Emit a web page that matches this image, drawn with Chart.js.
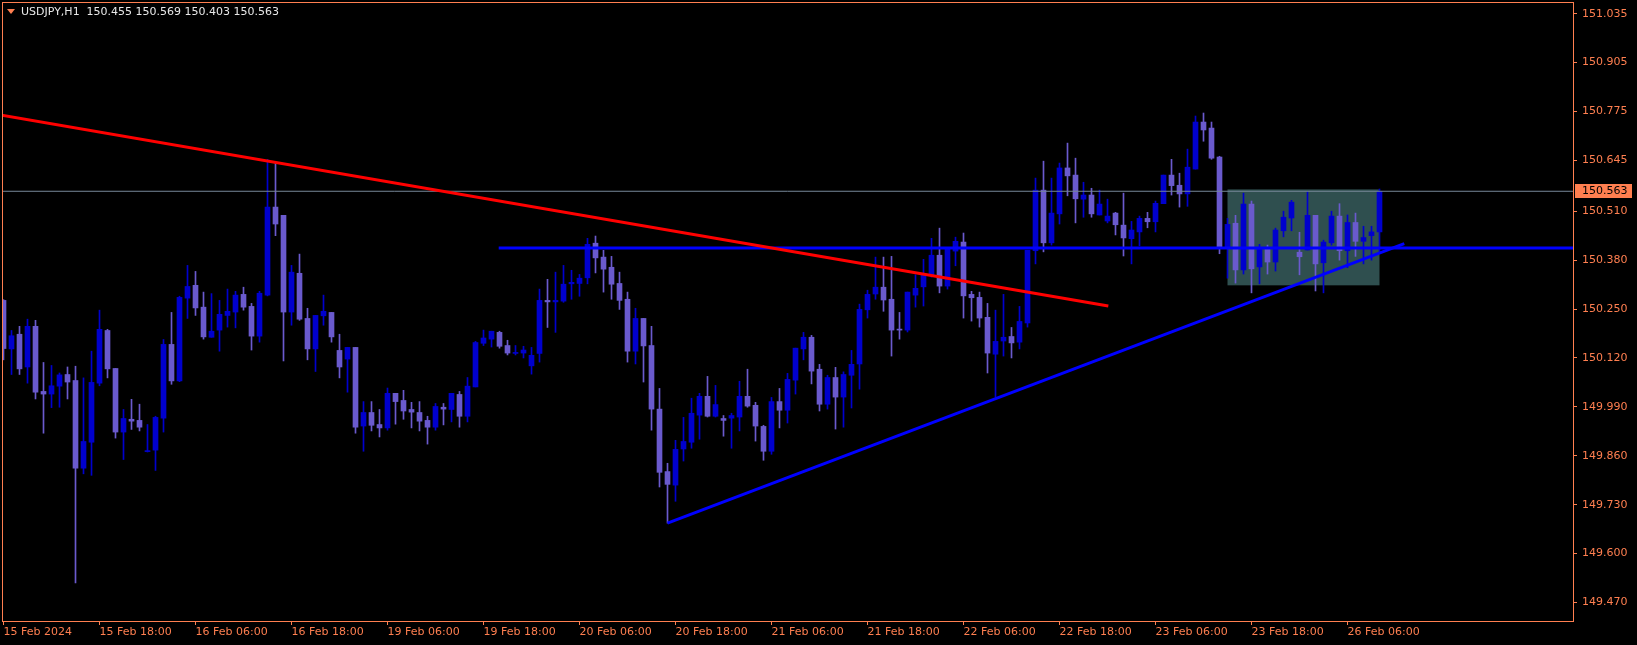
<!DOCTYPE html>
<html><head><meta charset="utf-8">
<script src="https://cdn.jsdelivr.net/npm/chart.js@4.4.1/dist/chart.umd.min.js"></script>
<style>html,body{margin:0;padding:0;background:#000;overflow:hidden}#wrap{width:1637px;height:645px}</style>
</head><body><div id="wrap"><canvas id="c" width="1637" height="645"></canvas></div>
<script>
// ---- data (H1 bars, index 0 = 15 Feb 2024 06:00) ----
const titleText = "USDJPY,H1  150.455 150.569 150.403 150.563";
const open = [
150.273,150.144,150.183,150.096,150.204,150.031,150.024,150.045,150.076,150.060,
149.827,149.896,150.053,150.193,150.092,149.923,149.957,149.954,149.871,149.875,
149.960,150.156,150.059,150.279,150.313,150.255,150.175,150.194,150.233,150.242,
150.289,150.257,150.178,150.287,150.521,150.499,150.242,150.345,150.225,150.144,
150.232,150.241,150.140,150.117,150.148,149.939,149.975,149.943,149.934,150.026,
150.007,149.983,149.975,149.954,149.936,149.989,149.983,150.023,149.965,150.043,
150.159,150.170,150.188,150.153,150.132,150.133,150.099,150.132,150.273,150.269,
150.271,150.317,150.318,150.333,150.425,150.388,150.361,150.318,150.276,150.138,
150.225,150.153,149.984,149.818,149.782,149.878,149.896,149.968,150.018,149.965,
149.959,149.960,149.963,150.018,149.994,149.938,149.872,150.004,149.981,150.061,
150.144,150.175,150.090,149.997,150.068,150.016,150.074,150.104,150.248,150.290,
150.308,150.276,150.196,150.194,150.287,150.309,150.340,150.393,150.311,150.404,
150.428,150.289,150.281,150.228,150.130,150.165,150.177,150.162,150.213,150.405,
150.566,150.426,150.503,150.625,150.606,150.542,150.553,150.500,150.484,150.505,
150.473,150.437,150.455,150.491,150.482,150.530,150.606,150.579,150.556,150.622,
150.747,150.731,150.654,150.415,150.478,150.354,150.529,150.362,150.412,150.375,
150.458,150.492,150.401,150.407,150.499,150.373,150.426,150.497,150.405,150.480,
150.430,150.445,150.455];
const high = [
150.275,150.193,150.204,150.223,150.220,150.108,150.100,150.080,150.096,150.098,
150.067,150.138,150.247,150.196,150.092,149.983,150.010,149.997,149.943,149.965,
150.169,150.241,150.284,150.366,150.350,150.295,150.291,150.273,150.303,150.297,
150.308,150.265,150.297,150.648,150.637,150.499,150.366,150.396,150.252,150.233,
150.287,150.241,150.183,150.148,150.148,150.004,150.004,149.983,150.040,150.026,
150.034,150.002,150.004,149.965,149.999,149.999,150.026,150.031,150.068,150.164,
150.194,150.191,150.191,150.167,150.153,150.151,150.148,150.303,150.329,150.348,
150.366,150.353,150.342,150.438,150.444,150.406,150.390,150.348,150.295,150.252,
150.225,150.204,150.039,149.840,149.901,149.962,150.013,150.026,150.071,150.047,
149.967,149.973,150.058,150.090,150.002,149.941,150.015,150.039,150.079,150.146,
150.188,150.180,150.103,150.074,150.095,150.083,150.140,150.263,150.300,150.388,
150.388,150.390,150.241,150.295,150.341,150.382,150.438,150.465,150.409,150.441,
150.452,150.297,150.295,150.265,150.247,150.289,150.201,150.257,150.406,150.598,
150.643,150.598,150.638,150.691,150.651,150.587,150.571,150.566,150.542,150.507,
150.558,150.483,150.497,150.507,150.537,150.606,150.648,150.611,150.675,150.763,
150.771,150.747,150.656,150.491,150.499,150.558,150.537,150.422,150.420,150.465,
150.510,150.539,150.454,150.563,150.499,150.433,150.510,150.530,150.500,150.505,
150.470,150.470,150.569];
const low = [
150.115,150.076,150.076,150.053,150.011,149.920,149.988,149.989,150.011,149.522,
149.812,149.808,150.046,150.067,149.907,149.850,149.930,149.926,149.870,149.821,
149.923,150.050,150.057,150.225,150.233,150.170,150.175,150.138,150.202,150.200,
150.247,150.141,150.162,150.285,150.445,150.112,150.207,150.220,150.115,150.084,
150.207,150.162,150.067,150.029,149.920,149.872,149.926,149.910,149.928,149.944,
149.957,149.934,149.926,149.891,149.928,149.942,149.950,149.936,149.950,150.043,
150.153,150.149,150.146,150.128,150.128,150.120,150.077,150.109,150.201,150.188,
150.268,150.276,150.284,150.317,150.346,150.295,150.276,150.249,150.109,150.104,
150.056,149.928,149.777,149.681,149.739,149.846,149.880,149.904,149.963,149.963,
149.912,149.880,149.926,149.989,149.899,149.848,149.864,149.934,149.947,150.024,
150.115,150.051,149.979,149.984,149.931,149.936,149.987,150.037,150.226,150.276,
150.244,150.125,150.170,150.189,150.255,150.258,150.335,150.293,150.303,150.365,
150.226,150.218,150.202,150.080,150.016,150.125,150.120,150.144,150.202,150.370,
150.402,150.420,150.476,150.551,150.479,150.494,150.494,150.500,150.479,150.447,
150.391,150.370,150.418,150.466,150.455,150.530,150.553,150.521,150.523,150.622,
150.696,150.648,150.397,150.332,150.319,150.343,150.293,150.317,150.343,150.351,
150.442,150.458,150.341,150.407,150.298,150.293,150.420,150.380,150.360,150.390,
150.370,150.380,150.403];
const close = [
150.145,150.179,150.091,150.204,150.029,150.024,150.046,150.075,150.056,149.827,
149.898,150.055,150.196,150.091,149.923,149.959,149.952,149.936,149.871,149.962,
150.156,150.059,150.281,150.310,150.253,150.176,150.191,150.236,150.244,150.287,
150.255,150.178,150.292,150.521,150.476,150.242,150.348,150.223,150.144,150.233,
150.244,150.176,150.096,150.148,149.936,149.975,149.941,149.934,150.026,150.004,
149.979,149.976,149.952,149.936,149.991,149.984,150.026,149.965,150.045,150.161,
150.173,150.191,150.151,150.133,150.134,150.141,150.127,150.273,150.269,150.273,
150.316,150.321,150.332,150.422,150.386,150.356,150.316,150.273,150.138,150.225,
150.152,149.984,149.816,149.784,149.877,149.898,149.973,150.018,149.965,149.996,
149.954,149.967,150.018,149.992,149.939,149.872,150.004,149.981,150.063,150.146,
150.175,150.085,149.997,150.068,150.016,150.076,150.103,150.249,150.289,150.308,
150.274,150.194,150.194,150.295,150.305,150.340,150.393,150.311,150.409,150.430,
150.285,150.280,150.226,150.133,150.164,150.175,150.160,150.217,150.406,150.566,
150.426,150.505,150.625,150.604,150.543,150.553,150.503,150.529,150.497,150.474,
150.439,150.460,150.491,150.482,150.531,150.606,150.578,150.556,150.627,150.747,
150.726,150.651,150.415,150.475,150.354,150.529,150.357,150.409,150.375,150.460,
150.494,150.534,150.389,150.499,150.370,150.428,150.497,150.405,150.480,150.430,
150.440,150.455,150.563];

const timeTickBars   = [0,12,24,36,48,60,72,84,96,108,120,132,144,156,168];
const timeTickLabels = ["15 Feb 2024","15 Feb 18:00","16 Feb 06:00","16 Feb 18:00","19 Feb 06:00",
  "19 Feb 18:00","20 Feb 06:00","20 Feb 18:00","21 Feb 06:00","21 Feb 18:00","22 Feb 06:00",
  "22 Feb 18:00","23 Feb 06:00","23 Feb 18:00","26 Feb 06:00"];
const priceTicks = [151.035,150.905,150.775,150.645,150.510,150.380,150.250,150.120,149.990,149.860,149.730,149.600,149.470];
const bidPrice = 150.563;
// drawn objects (bar index, price)
const redTrend   = [{x:-0.4, y:150.766},{x:138.1, y:150.258}];
const blueLevel  = 150.412, blueLevelFrom = 61.9;
const blueTrend  = [{x:83, y:149.681},{x:175.1, y:150.424}];
const rangeBox   = {x1:153, x2:172, y1:150.313, y2:150.568};

// ---- styling ----
const AXIS='#FF7F50', BULL='#0000CD', BEAR='#6A5ACD', FONT='DejaVu Sans';
const X_MIN=-0.1875, X_MAX=196.1875, Y_MIN=149.4208, Y_MAX=151.0661;

const idx = open.map((_,i)=>i);
const candleColor = c => close[c.dataIndex] >= open[c.dataIndex] ? BULL : BEAR;

const mt4 = {
  id:'mt4',
  beforeDatasetsDraw(chart){
    const {ctx, chartArea:a, scales:{x,y}} = chart;
    ctx.save();
    ctx.beginPath(); ctx.rect(a.left,a.top,a.right-a.left,a.bottom-a.top); ctx.clip();
    const x1=x.getPixelForValue(rangeBox.x1), x2=x.getPixelForValue(rangeBox.x2);
    const y1=y.getPixelForValue(rangeBox.y2), y2=y.getPixelForValue(rangeBox.y1);
    ctx.fillStyle='#2F4F4F'; ctx.fillRect(x1,y1,x2-x1,y2-y1);
    ctx.restore();
  },
  afterDraw(chart){
    const {ctx, chartArea:a, scales:{y}} = chart;
    ctx.save();
    ctx.strokeStyle=AXIS; ctx.lineWidth=1;
    ctx.strokeRect(a.left+0.5, a.top+0.5, a.right-a.left, a.bottom-a.top);
    // bid label
    const py = Math.round(y.getPixelForValue(bidPrice));
    ctx.fillStyle=AXIS; ctx.fillRect(a.right+2, py-7, 57, 14);
    ctx.fillStyle='#000'; ctx.font='11px "'+FONT+'"'; ctx.textBaseline='middle'; ctx.textAlign='left';
    ctx.fillText(bidPrice.toFixed(3), a.right+9, py+0.5);
    // title
    ctx.fillStyle=AXIS;
    ctx.beginPath(); ctx.moveTo(7,9); ctx.lineTo(15,9); ctx.lineTo(11,14); ctx.closePath(); ctx.fill();
    ctx.fillStyle='#E8E8E8';
    ctx.fillText(titleText, 21, 12.5);
    ctx.restore();
  }
};

const noPad = s => { s.paddingTop=0; s.paddingBottom=0; s.paddingLeft=0; s.paddingRight=0; };

new Chart(document.getElementById('c'), {
  type:'bar',
  data:{ datasets:[
    {type:'line', data:[{x:X_MIN,y:bidPrice},{x:X_MAX,y:bidPrice}], borderColor:'#778899', borderWidth:1, pointRadius:0, order:3},
    {type:'line', data:redTrend, borderColor:'#FF0000', borderWidth:3, pointRadius:0, order:0},
    {type:'line', data:[{x:blueLevelFrom,y:blueLevel},{x:X_MAX,y:blueLevel}], borderColor:'#0000FF', borderWidth:3, pointRadius:0, order:1},
    {type:'line', data:blueTrend, borderColor:'#0000FF', borderWidth:3, pointRadius:0, order:2},
    {type:'bar', data:idx.map(i=>({x:i, y:[open[i], close[i]]})), backgroundColor:candleColor,
      barThickness:5, minBarLength:1, grouped:false, borderWidth:0, order:4},
    {type:'bar', data:idx.map(i=>({x:i, y:[low[i], high[i]]})), backgroundColor:candleColor,
      barThickness:1, grouped:false, borderWidth:0, order:5}
  ]},
  options:{
    responsive:false, animation:false, devicePixelRatio:1,
    layout:{autoPadding:false, padding:{left:2, top:2, right:0, bottom:0}},
    plugins:{legend:{display:false}, tooltip:{enabled:false}},
    scales:{
      x:{ type:'linear', min:X_MIN, max:X_MAX, offset:false,
        afterFit:s=>{ s.height=24; noPad(s); },
        afterBuildTicks:s=>{ s.ticks = timeTickBars.map(v=>({value:v})); },
        ticks:{ color:AXIS, font:{family:FONT, size:11}, align:'start', maxRotation:0, autoSkip:false, padding:1,
          callback:(v,i)=>timeTickLabels[i] },
        grid:{ offset:false, drawOnChartArea:false, tickLength:4, color:AXIS },
        border:{display:false}
      },
      y:{ position:'right', min:Y_MIN, max:Y_MAX,
        afterFit:s=>{ s.width=64; noPad(s); },
        afterBuildTicks:s=>{ s.ticks = priceTicks.map(v=>({value:v})); },
        ticks:{ color:AXIS, font:{family:FONT, size:11}, padding:5, autoSkip:false, callback:v=>v.toFixed(3) },
        grid:{ drawOnChartArea:false, tickLength:4, color:AXIS },
        border:{display:false}
      }
    }
  },
  plugins:[mt4]
});
</script>
</body></html>
